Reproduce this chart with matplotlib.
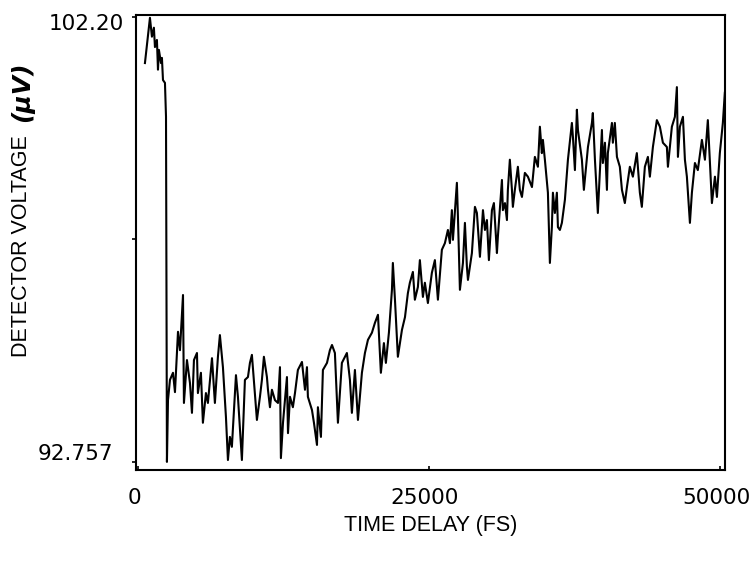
import numpy as np
import matplotlib
matplotlib.use("Agg")
import matplotlib.pyplot as plt
import matplotlib.transforms as mtransforms

# values
time_fs = [
    600, 1030, 1200, 1370, 1460, 1630, 1720, 1800, 1980, 2060, 2150, 2320, 2410, 2490,
    2580, 2750, 3010, 3180, 3440, 3610, 3870, 3950, 4210, 4470, 4640, 4810, 5070, 5150,
    5410, 5580, 5840, 6010, 6360, 6610, 6870, 7040, 7300, 7560, 7730, 7900, 8070, 8420,
    8590, 8930, 9190, 9450, 9620, 9790, 10220, 10480, 10650, 10820, 11080, 11170, 11340,
    11510, 11770, 12030, 12200, 12280, 12460, 12800, 12890, 13060, 13310, 13490, 13740,
    14090, 14350, 14520, 14600, 14950, 15120, 15380, 15460, 15720, 15890, 16240, 16490,
    16670, 16920, 17180, 17520, 17950, 18210, 18380, 18640, 18900, 19240, 19500, 19760,
    20100, 20360, 20620, 20870, 21130, 21300, 21560, 21820, 21900, 22080, 22330, 22680,
    22940, 23190, 23360, 23620, 23790, 24050, 24220, 24480, 24650, 24910, 25250, 25510,
    25770, 26110, 26370, 26630, 26800, 26970, 27060, 27400, 27490, 27660, 27920, 28090,
    28260, 28350, 28690, 28950, 29120, 29380, 29640, 29810, 29980, 30150, 30410, 30580,
    30840, 30920, 31270, 31350, 31530, 31700, 31780, 31950, 32130, 32210, 32380, 32640,
    32810, 32990, 33240, 33500, 33850, 34100, 34360, 34530, 34700, 34790, 34960, 35220,
    35390, 35560, 35650, 35820, 35990, 36080, 36250, 36420, 36680, 36940, 37280, 37370,
    37540, 37710, 37800, 38140, 38310, 38660, 39000, 39080, 39260, 39510, 39860, 39940,
    40120, 40290, 40370, 40720, 40800, 40970, 41150, 41400, 41580, 41830, 42010, 42260,
    42520, 42860, 43120, 43290, 43550, 43810, 43980, 44240, 44580, 44840, 45100, 45440,
    45530, 45870, 46130, 46300, 46390, 46560, 46820, 46990, 47160, 47420, 47590, 47850,
    48100, 48450, 48710, 48960, 49310, 49570, 49740, 49990, 50250, 50420,
]
voltage_uv = [
    101.22, 102.18, 101.78, 101.97, 101.56, 101.71, 101.08, 101.50, 101.22, 101.33, 100.86, 100.80, 100.08, 92.76,
    94.07, 94.50, 94.65, 94.24, 95.52, 95.13, 96.30, 94.01, 94.92, 94.43, 93.80, 94.92, 95.07, 94.22,
    94.65, 93.59, 94.22, 94.01, 94.96, 94.01, 94.99, 95.45, 94.77, 93.71, 92.80, 93.29, 93.08, 94.60,
    94.14, 92.80, 94.50, 94.56, 94.86, 95.03, 93.65, 94.14, 94.50, 94.99, 94.56, 94.29, 93.92,
    94.29, 94.07, 94.01, 94.77, 92.84, 93.59, 94.56, 93.37, 94.14, 93.92, 94.22, 94.71,
    94.88, 94.29, 94.77, 94.14, 93.86, 93.59, 93.12, 93.92, 93.29, 94.71, 94.86, 95.13,
    95.24, 95.07, 93.59, 94.86, 95.07, 94.50, 93.80, 94.71, 93.65, 94.65, 95.07, 95.35,
    95.50, 95.71, 95.88, 94.65, 95.28, 94.86, 95.50, 96.41, 96.98, 96.20, 94.99, 95.56,
    95.83, 96.34, 96.56, 96.79, 96.20, 96.47, 97.04, 96.26, 96.56, 96.13, 96.77, 97.04,
    96.20, 97.26, 97.40, 97.68, 97.40, 98.10, 97.47, 98.68, 97.96, 96.41, 96.98, 97.83,
    96.90, 96.62, 97.19, 98.17, 98.04, 97.11, 98.10, 97.68, 97.89, 97.04, 98.10, 98.25,
    97.19, 97.53, 98.74, 98.10, 98.25, 97.89, 98.53, 99.17, 98.53, 98.17, 98.53, 99.02,
    98.53, 98.38, 98.89, 98.81, 98.59, 99.23, 99.02, 99.87, 99.31, 99.59, 99.17, 98.47,
    96.98, 97.74, 98.47, 98.04, 98.47, 97.74, 97.68, 97.83, 98.32, 99.17, 99.95, 99.65,
    98.95, 100.23, 99.80, 99.17, 98.53, 99.44, 99.95, 100.16, 99.17, 98.04, 99.80, 99.10,
    99.53, 98.53, 99.31, 99.95, 99.53, 99.95, 99.23, 99.02, 98.53, 98.25, 98.59, 99.02,
    98.81, 99.31, 98.47, 98.17, 99.02, 99.23, 98.81, 99.44, 100.01, 99.87, 99.53, 99.44,
    99.02, 99.87, 100.08, 100.71, 99.23, 99.87, 100.08, 99.17, 98.81, 97.83, 98.47, 99.10,
    98.95, 99.59, 99.17, 100.01, 98.25, 98.81, 98.38, 99.31, 99.95, 100.59,
]

x_ticks = [0, 25000, 50000]
x_tick_labels = ["0", "25000", "50000"]
y_ticks = [92.757, (92.757 + 102.20) / 2, 102.20]
y_tick_labels = ["92.757", "", "102.20"]

fig = plt.figure(figsize=(7.55, 5.61), dpi=100)
ax = fig.add_axes([0.1801, 0.1622, 0.7801, 0.8111])

ax.plot(time_fs, voltage_uv, color="black", linewidth=1.5)

ax.set_xlim(-170, 50430)
ax.set_ylim(92.588, 102.24)

ax.set_xticks(x_ticks)
ax.set_xticklabels(x_tick_labels, family="DejaVu Sans", fontsize=15.5)
ax.set_yticks(y_ticks)
ax.set_yticklabels(y_tick_labels, family="DejaVu Sans", fontsize=15.5)
ax.tick_params(axis="x", direction="in", length=3, width=1.2, pad=13)
ax.tick_params(axis="y", direction="out", length=3, width=1.2, pad=6)

for s in ax.spines.values():
    s.set_linewidth(1.5)

# nudge the tick labels like on the scan
shift_x = mtransforms.ScaledTranslation(-4 / 100, 0, fig.dpi_scale_trans)
for lab in ax.get_xticklabels():
    lab.set_transform(lab.get_transform() + shift_x)
lab_bottom, lab_mid, lab_top = ax.get_yticklabels()
lab_bottom.set_transform(lab_bottom.get_transform()
                         + mtransforms.ScaledTranslation(-10 / 100, 10 / 100, fig.dpi_scale_trans))
lab_top.set_transform(lab_top.get_transform()
                      + mtransforms.ScaledTranslation(0, -5 / 100, fig.dpi_scale_trans))

ax.set_xlabel("TIME DELAY (FS)", family="Liberation Sans", fontsize=15.5, labelpad=5)

fig.text(22 / 755, 1 - 357 / 561, "DETECTOR VOLTAGE", rotation=90,
         ha="center", va="bottom", family="Liberation Sans", fontsize=15.5)
fig.text(22 / 755, 1 - 122 / 561, "(μV)", rotation=90, ha="center", va="bottom",
         family="DejaVu Sans", fontsize=18, fontweight="bold", fontstyle="italic")

fig.savefig("out.png", dpi=100)
